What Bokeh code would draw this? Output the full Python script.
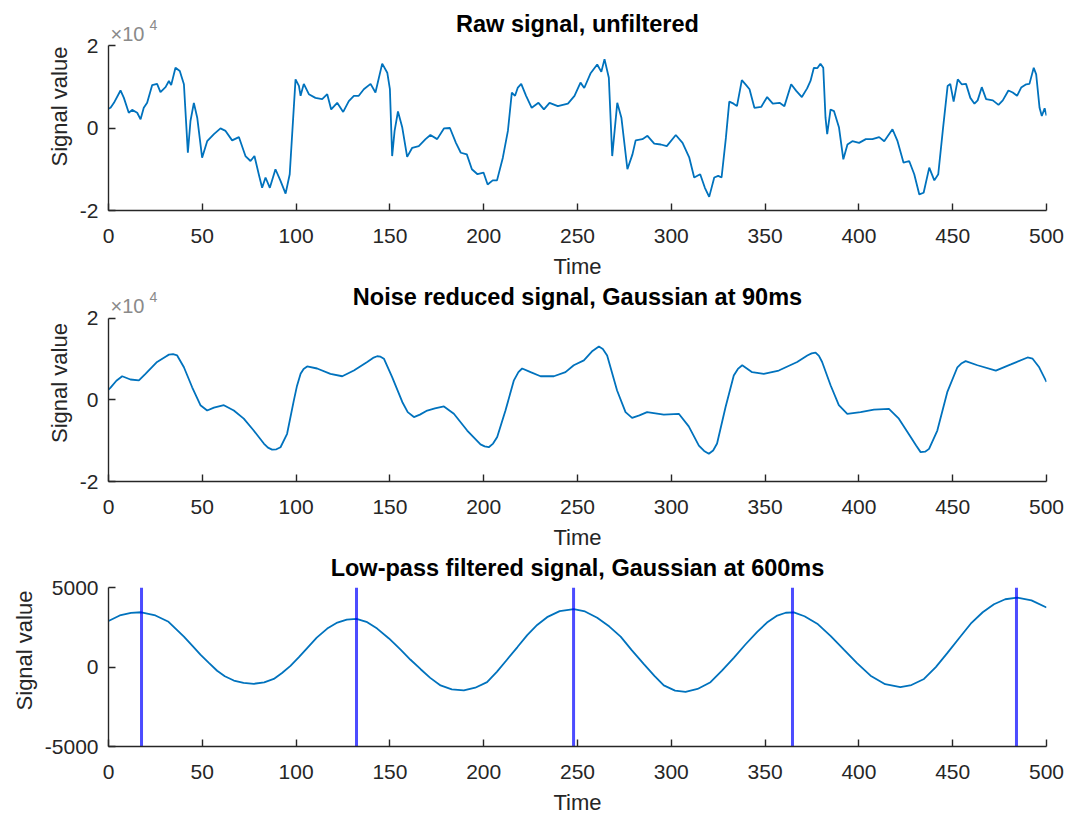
from bokeh.plotting import figure
from bokeh.models import Range1d, FixedTicker, Label, ColumnDataSource
from bokeh.layouts import column
from bokeh.embed import file_html
from bokeh.resources import INLINE

# ---------------- data ----------------
x_ticks = [0, 50, 100, 150, 200, 250, 300, 350, 400, 450, 500]

# Raw signal, values in units of 1e4
raw_t = [0, 1.1, 2.9, 6.4, 8.2, 10.8, 12.6, 15.3, 17.1, 18.8, 20.6, 23.3, 25.9, 27.7, 30.4, 32.2, 33.4,
         35.7, 38.0, 40.2, 42.3, 43.7, 45.5, 47.3, 49.9, 52.6, 56.2, 59.7, 62.4, 65.9, 69.5, 73.0, 75.7,
         77.8, 80.1, 81.9, 83.7, 86.0, 89.0, 91.7, 94.4, 96.6, 99.7, 101.5, 102.4, 104.1, 106.8, 110.3,
         113.9, 116.6, 118.7, 121.9, 125.1, 128.1, 130.8, 133.4, 136.1, 139.7, 142.3, 145.9, 148.6,
         150.0, 151.2, 152.5, 154.3, 156.6, 159.2, 161.9, 165.4, 169.0, 171.6, 175.2, 178.8, 182.0,
         185.2, 187.8, 191.0, 193.7, 196.7, 199.9, 202.1, 204.8, 207.1, 210.2, 212.9, 215.0, 216.7,
         218.2, 220.0, 222.6, 225.6, 229.2, 232.1, 235.1, 239.5, 244.9, 248.4, 251.6, 253.6, 256.9,
         260.5, 262.7, 264.4, 266.7, 268.5, 271.2, 273.4, 276.6, 279.3, 281.0, 284.6, 287.3, 290.9,
         294.4, 297.6, 302.4, 306.0, 309.6, 312.2, 315.4, 317.9, 320.2, 322.9, 325.0, 326.8, 329.1,
         330.9, 333.2, 335.0, 337.6, 339.9, 341.7, 344.3, 347.9, 351.1, 354.1, 357.7, 360.3, 363.9,
         366.6, 369.6, 372.4, 374.2, 376.0, 377.8, 379.5, 381.0, 382.2, 383.1, 384.9, 386.7, 389.4,
         391.7, 393.9, 396.5, 400.1, 403.7, 407.2, 410.8, 413.5, 417.9, 420.6, 423.8, 426.8, 429.5,
         432.2, 434.5, 437.5, 440.2, 442.3, 444.7, 447.3, 448.7, 450.5, 452.7, 454.8, 457.1, 459.4,
         461.6, 463.3, 465.5, 467.8, 471.4, 474.4, 476.7, 479.7, 482.0, 484.3, 486.5, 489.2, 490.9,
         493.2, 494.5, 496.3, 497.5, 499.0, 500]
raw_v = [0.47, 0.49, 0.61, 0.91, 0.73, 0.37, 0.44, 0.37, 0.21, 0.49, 0.61, 1.04, 1.07, 0.87, 0.99, 1.14, 1.04,
         1.46, 1.38, 1.06, -0.60, 0.17, 0.61, 0.25, -0.72, -0.32, -0.15, -0.01, -0.07, -0.30, -0.22, -0.68, -0.80,
         -0.68, -1.12, -1.45, -1.20, -1.45, -1.00, -1.28, -1.59, -1.12, 1.18, 1.02, 0.78, 1.07, 0.82, 0.73,
         0.70, 0.82, 0.45, 0.61, 0.39, 0.65, 0.78, 0.78, 0.94, 1.07, 0.86, 1.56, 1.34,
         0.94, -0.68, -0.07, 0.40, 0.01, -0.70, -0.48, -0.44, -0.27, -0.17, -0.27, -0.01, 0.00,
         -0.36, -0.60, -0.64, -1.00, -1.12, -1.08, -1.37, -1.27, -1.27, -0.72, -0.07, 0.86, 0.78,
         0.98, 1.07, 0.78, 0.49, 0.61, 0.45, 0.61, 0.53, 0.59, 0.78, 1.10, 0.97, 1.32,
         1.54, 1.36, 1.67, 1.22, -0.68, 0.61, 0.25, -1.00, -0.64, -0.30, -0.27, -0.19, -0.38,
         -0.40, -0.44, -0.17, -0.36, -0.72, -1.20, -1.12, -1.45, -1.67, -1.20, -1.16, -1.20, -0.24,
         0.64, 0.59, 0.53, 1.16, 1.04, 0.94, 0.49, 0.51, 0.75, 0.59, 0.61, 0.53, 1.06,
         0.90, 0.75, 0.96, 1.14, 1.46, 1.45, 1.56, 1.46, 0.25, -0.15, 0.45, 0.41, 0.01,
         -0.76, -0.40, -0.32, -0.36, -0.27, -0.27, -0.22, -0.32, -0.03, -0.32, -0.84, -0.80, -1.12,
         -1.61, -1.57, -0.96, -1.27, -1.12, -0.07, 1.02, 1.07, 0.64, 1.18, 1.06, 1.07, 0.73,
         0.59, 0.67, 0.99, 0.70, 0.67, 0.56, 0.67, 0.91, 0.86, 0.78, 0.98, 1.06, 1.07,
         1.46, 1.30, 0.49, 0.29, 0.48, 0.30]

# Noise reduced signal (Gaussian 90 ms), values in units of 1e4
smooth_t = [0, 1.1, 4.2, 7.3, 11.7, 16.2, 19.7, 25.9, 30.4, 32.2, 34.4, 36.6, 40.2, 44.6, 49.0, 52.6,
            56.2, 61.5, 66.8, 72.1, 77.4, 82.8, 85.0, 87.2, 89.5, 91.7, 95.2, 98.8, 100.5, 102.4, 104.0,
            105.9, 111.2, 118.3, 124.6, 130.8, 137.9, 141.0, 143.2, 145.0, 146.8, 151.2, 156.6, 159.5,
            162.8, 166.0, 169.9, 174.0, 178.8, 184.1, 191.2, 198.3, 200.5, 202.7, 205.0, 207.2, 211.6,
            216.1, 218.5, 220.5, 225.0, 230.3, 237.4, 243.6, 248.0, 253.4, 258.0, 261.4, 263.5, 265.8,
            271.1, 275.6, 279.1, 283.0, 287.1, 296.0, 304.0, 309.3, 314.7, 317.5, 320.0, 322.3, 324.4,
            328.9, 333.3, 335.5, 337.8, 343.1, 349.3, 357.3, 367.1, 372.5, 374.8, 376.9, 378.7, 380.4,
            384.9, 389.3, 393.8, 400.9, 408.0, 416.0, 421.3, 427.6, 430.5, 432.9, 435.3, 437.4, 441.8,
            447.1, 452.5, 454.8, 456.9, 463.2, 473.0, 481.0, 489.9, 492.6, 496.1, 500]
smooth_v = [0.25, 0.30, 0.47, 0.58, 0.50, 0.48, 0.64, 0.93, 1.06, 1.11, 1.12, 1.09, 0.80, 0.31, -0.13, -0.26,
            -0.19, -0.13, -0.26, -0.46, -0.75, -1.07, -1.17, -1.22, -1.21, -1.16, -0.83, -0.01, 0.35, 0.64, 0.76,
            0.82, 0.77, 0.64, 0.58, 0.72, 0.93, 1.03, 1.07, 1.06, 1.01, 0.56, -0.05, -0.30,
            -0.42, -0.36, -0.26, -0.21, -0.16, -0.34, -0.75, -1.09, -1.14, -1.16, -1.07, -0.91, -0.26,
            0.48, 0.68, 0.77, 0.68, 0.58, 0.58, 0.68, 0.85, 0.97, 1.20, 1.31, 1.25, 1.09,
            0.23, -0.30, -0.44, -0.38, -0.30, -0.36, -0.34, -0.65, -1.12, -1.25, -1.32, -1.24, -1.07,
            -0.18, 0.60, 0.76, 0.85, 0.68, 0.64, 0.72, 0.93, 1.09, 1.14, 1.16, 1.08, 0.93,
            0.36, -0.13, -0.34, -0.30, -0.24, -0.22, -0.46, -0.91, -1.12, -1.28, -1.27, -1.20, -0.75,
            0.19, 0.80, 0.90, 0.95, 0.85, 0.72, 0.87, 1.04, 1.01, 0.80, 0.44]

# Low-pass filtered signal (Gaussian 600 ms)
lp_t = [0, 6.0, 12.0, 17.5, 25.0, 32.0, 40.2, 45.0, 49.0, 53.5, 57.9, 62.0, 66.8, 72.0, 77.5, 83.0,
        88.1, 92.5, 97.0, 101.5, 105.9, 111.0, 116.6, 122.0, 127.0, 132.2, 137.5, 143.2, 149.5, 155.7,
        161.0, 166.4, 171.5, 177.0, 183.0, 189.4, 195.5, 201.8, 207.0, 212.5, 218.0, 223.2, 228.5,
        233.8, 240.5, 248.0, 254.0, 260.5, 267.0, 273.0, 279.0, 285.5, 291.0, 296.0, 302.0, 307.6,
        314.0, 320.9, 327.0, 333.3, 339.5, 345.8, 351.0, 356.5, 361.0, 365.3, 371.0, 377.8, 385.0,
        392.0, 399.0, 406.2, 414.0, 422.1, 428.0, 434.7, 441.0, 447.2, 453.5, 459.6, 466.0, 472.0,
        478.0, 484.4, 492.0, 500]
lp_v = [2900, 3250, 3410, 3450, 3250, 2850, 1914, 1300, 785, 270, -233, -580, -847, -1000, -1053, -960,
        -748, -370, 74, 620, 1196, 1850, 2423, 2800, 2990, 3037, 2850, 2423, 1800, 1094,
        460, -135, -680, -1155, -1400, -1462, -1300, -951, -300, 479, 1260, 2015, 2650,
        3140, 3520, 3650, 3500, 3100, 2550, 1914, 1050, 172, -560, -1155, -1480, -1564,
        -1380, -951, -230, 583, 1420, 2221, 2800, 3241, 3420, 3447, 3200, 2730, 1950,
        1094, 250, -541, -1080, -1258, -1130, -748, 0, 890, 1830, 2730, 3450, 3957,
        4270, 4366, 4200, 3753]

peak_times = [17.6, 132.2, 247.9, 364.6, 484.0]

titles = ["Raw signal, unfiltered",
          "Noise reduced signal, Gaussian at 90ms",
          "Low-pass filtered signal, Gaussian at 600ms"]

# ---------------- styling ----------------
FONT = "Liberation Sans"
AX = "#262626"
LINE = "#0072BD"


def make_fig(height, bottom, y_lo, y_hi, y_top, yticks, title, title_off):
    # frame extends above the axis so the title / exponent can sit inside it
    p = figure(width=1068, height=height, output_backend="svg", toolbar_location=None,
               x_range=Range1d(0, 500), y_range=Range1d(y_lo, y_top),
               min_border_left=108, min_border_right=22,
               min_border_top=2, min_border_bottom=bottom)
    p.outline_line_color = None
    p.grid.visible = False
    p.background_fill_color = "white"
    p.border_fill_color = "white"
    p.xaxis.ticker = FixedTicker(ticks=x_ticks)
    p.yaxis.ticker = FixedTicker(ticks=yticks)
    p.yaxis.major_label_overrides = {t: str(t) for t in yticks}
    p.yaxis.bounds = (y_lo, y_hi)
    p.xaxis.axis_label = "Time"
    p.yaxis.axis_label = "Signal value"
    for ax in (p.xaxis[0], p.yaxis[0]):
        ax.axis_line_color = AX
        ax.axis_line_width = 1.4
        ax.major_tick_line_color = AX
        ax.major_tick_line_width = 1.4
        ax.major_tick_in = 7
        ax.major_tick_out = 0
        ax.minor_tick_line_color = None
        ax.major_label_text_font = FONT
        ax.major_label_text_font_size = "21px"
        ax.major_label_text_color = AX
        ax.axis_label_text_font = FONT
        ax.axis_label_text_font_size = "22px"
        ax.axis_label_text_font_style = "normal"
        ax.axis_label_text_color = AX
    p.xaxis.major_label_standoff = 18
    p.xaxis.axis_label_standoff = 8
    p.yaxis.major_label_standoff = 10
    p.yaxis.axis_label_standoff = 5
    p.add_layout(Label(x=250, y=y_hi, text=title, y_offset=title_off, text_font=FONT,
                       text_font_size="23.5px", text_font_style="bold", text_color="#000000",
                       text_align="center", text_baseline="alphabetic"))
    return p


def add_exponent(p, y_hi):
    p.add_layout(Label(x=0, y=y_hi, text="×10", x_offset=2, y_offset=12, text_font=FONT,
                       text_font_size="20px", text_color="#8a8a8a", text_baseline="alphabetic"))
    p.add_layout(Label(x=0, y=y_hi, text="4", x_offset=41, y_offset=21, text_font=FONT,
                       text_font_size="14px", text_color="#8a8a8a", text_baseline="alphabetic"))


# panel 1: y=2 at page 45, y=-2 at 210 (41.25 px per unit), frame top at page 2
p1 = make_fig(282, 72, -2, 2, 2 + 43 / 41.25, [-2, 0, 2], titles[0], 22)
p1.line(x="t", y="v", source=ColumnDataSource(dict(t=raw_t, v=raw_v)), line_color=LINE, line_width=1.8)
add_exponent(p1, 2)

# panel 2: y=2 at page 318, -2 at 482 (41 px per unit), frame top at page 284
p2 = make_fig(270, 70, -2, 2, 2 + 34 / 41.0, [-2, 0, 2], titles[1], 21)
p2.line(x="t", y="v", source=ColumnDataSource(dict(t=smooth_t, v=smooth_v)), line_color=LINE, line_width=1.8)
add_exponent(p2, 2)

# panel 3: 5000 at page 588, -5000 at 751 (16.3 px per 1000), frame top at page 554
p3 = make_fig(265, 66, -5000, 5000, 5000 + 34 / 0.0163, [-5000, 0, 5000], titles[2], 20)
p3.line(x="t", y="v", source=ColumnDataSource(dict(t=lp_t, v=lp_v)), line_color=LINE, line_width=1.8)
p3.segment(x0="t", y0=-5000, x1="t", y1=5000, source=ColumnDataSource(dict(t=peak_times)),
           line_color="#0000FF", line_alpha=0.7, line_width=3)

layout = column(p1, p2, p3, spacing=0)
open("out.html", "w").write(file_html(layout, INLINE))
